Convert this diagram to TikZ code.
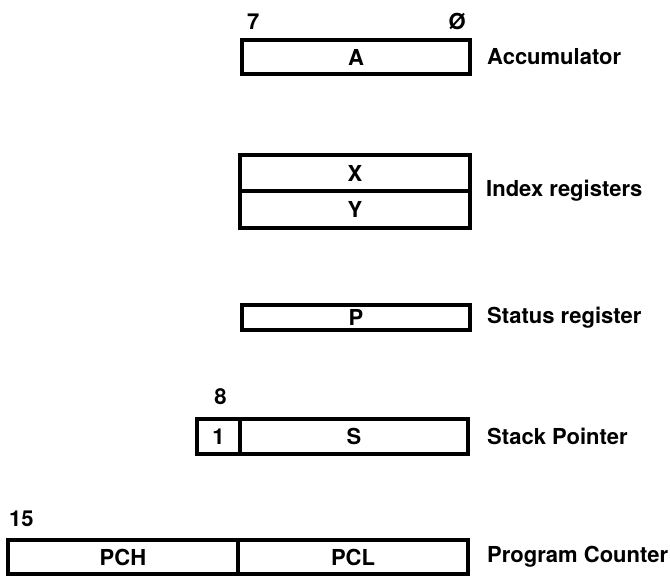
\documentclass[tikz,border=0pt]{standalone}
\usepackage{fontspec}
\setmainfont{TeX Gyre Heros}
\usetikzlibrary{positioning}
\tikzset{
	reg/.style={draw, rectangle, line width=3.4pt, inner sep=0pt, outer sep=0pt, minimum width=228pt, minimum height=34pt},
	regname/.style={inner sep=0pt},
	bitno/.style={inner sep=0pt}
}

\begin{document}
\begin{tikzpicture}[x=1pt, y=-1pt, font=\fontsize{22}{26}\selectfont\bfseries]
	\useasboundingbox (0,0) rectangle (670,576);

	\node [reg] (a) at (356,57) {A};
	\node [bitno, above right=10pt and 5pt of a.north west] (hi) {7};
	\node [bitno, above left=10pt and 4pt of a.north east] (lo) {Ø};
	\node [regname, right=17pt of a] (acc) {Accumulator};

	\node [reg, minimum width=230pt, minimum height=36pt] (x) at (355,173) {X};
	\node [reg, minimum width=230pt, minimum height=37pt, below=0pt of x] (y) {Y};
	\node [regname, right=16pt of x.south east] (idx) {Index registers};

	\node [reg, minimum height=25pt] (p) at (356,317.5) {P};
	\node [regname, right=17pt of p] (stat) {Status register};

	\node [reg, minimum width=43pt, minimum height=35pt] (one) at (218.5,436.5) {1};
	\node [reg, minimum height=35pt, right=0pt of one] (s) {S};
	\node [bitno, above=14pt of one.north, xshift=2pt] (msb) {8};
	\node [regname, right=19pt of s] (sp) {Stack Pointer};

	\node [reg, minimum width=230pt] (pch) at (123,557) {PCH};
	\node [reg, minimum width=230pt, right=0pt of pch] (pcl) {PCL};
	\node [bitno, above right=13pt and 1pt of pch.north west] (top) {15};
	\node [regname, right=19pt of pcl] (pc) {Program Counter};
\end{tikzpicture}
\end{document}
